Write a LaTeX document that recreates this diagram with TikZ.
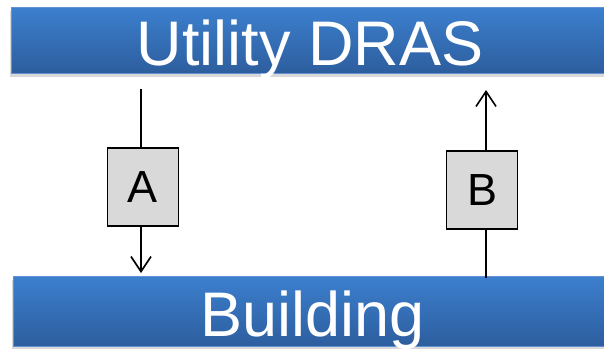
\documentclass[tikz,border=0pt]{standalone}
\usepackage{fontspec}
\setmainfont{Liberation Sans}
\usepackage{xcolor}
\usetikzlibrary{positioning,shadows,arrows.meta}

\definecolor{barTop}{RGB}{60,127,206}
\definecolor{barBot}{RGB}{45,94,158}
\definecolor{barEdge}{RGB}{98,146,212}
\definecolor{boxFill}{RGB}{217,217,217}

\tikzset{
  bar/.style={rectangle, draw=barEdge, line width=0.8pt, top color=barTop, bottom color=barBot,
    text=white, font=\fontsize{63}{63}\selectfont, text height=50pt, text depth=0pt, inner sep=0pt,
    drop shadow={opacity=0.3, shadow xshift=-1pt, shadow yshift=-4pt}},
  msgbox/.style={rectangle, draw=black, line width=1.6pt, fill=boxFill, minimum width=71pt,
    minimum height=78pt, inner sep=0pt, font=\fontsize{45}{45}\selectfont},
  wire/.style={line width=1.6pt},
  flow/.style={wire, -{Straight Barb[length=15pt,width=20pt]}}
}

\begin{document}
\begin{tikzpicture}[x=1pt,y=-1pt]
\useasboundingbox (0,0) rectangle (604,348);

\node[bar, minimum width=598pt, minimum height=66pt] (utility) at (310,40) {Utility DRAS};
\node[bar, minimum width=600pt, minimum height=70pt] (building) at (313,311) {Building};

\node[msgbox] (A) at (143,187) {A};
\node[msgbox] (B) at (482,190) {B};

\coordinate (aTop) at (141,89);
\coordinate (aTip) at (141,273);
\coordinate (bFoot) at (486,278);
\coordinate (bTip) at (486,90);

\draw[wire] (aTop) -- (aTop |- A.north);
\draw[flow] (aTip |- A.south) -- (aTip);
\draw[wire] (bFoot) -- (bFoot |- B.south);
\draw[flow] (bTip |- B.north) -- (bTip);
\end{tikzpicture}
\end{document}
